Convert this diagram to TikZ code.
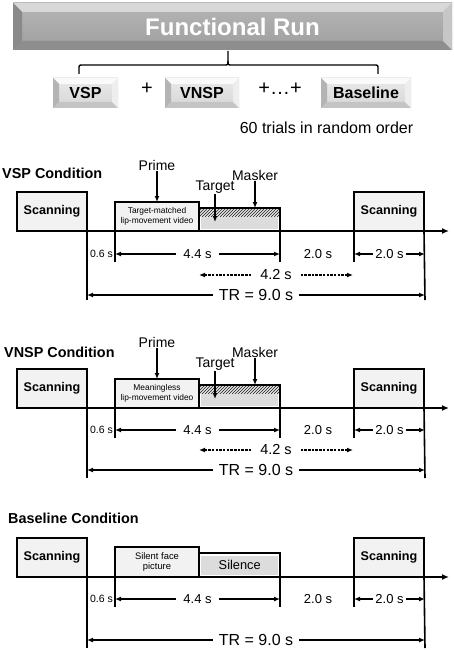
\documentclass[tikz,border=0pt]{standalone}
\usepackage{fontspec}
\setmainfont{Liberation Sans}
\usetikzlibrary{arrows.meta}
\definecolor{boxlight}{HTML}{F2F2F2}
\definecolor{targetgray}{HTML}{DCDCDC}
\definecolor{bantop}{HTML}{B6B6B6}
\definecolor{banbot}{HTML}{9E9E9E}
\definecolor{banbevT}{HTML}{D8D8D8}
\definecolor{banbevL}{HTML}{8A8A8A}
\definecolor{banbevB}{HTML}{8E8E8E}
\definecolor{banbevR}{HTML}{C6C6C6}
\definecolor{smtop}{HTML}{EAEAEA}
\definecolor{smbot}{HTML}{D6D6D6}
\definecolor{smbevT}{HTML}{FAFAFA}
\definecolor{smbevL}{HTML}{B4B4B4}
\definecolor{smbevB}{HTML}{C4C4C4}
\definecolor{smbevR}{HTML}{EEEEEE}
\definecolor{hatchcol}{HTML}{404040}
\newcommand\myfs[1]{\fontsize{#1}{#1}\selectfont}
\newcommand\mybevel[6]{%
 \fill[#3] (#1.north west) -- (#1.north east) -- ([xshift=-#2,yshift=-#2]#1.north east) -- ([xshift=#2,yshift=-#2]#1.north west) -- cycle;
 \fill[#4] (#1.north west) -- ([xshift=#2,yshift=-#2]#1.north west) -- ([xshift=#2,yshift=#2]#1.south west) -- (#1.south west) -- cycle;
 \fill[#5] (#1.south west) -- ([xshift=#2,yshift=#2]#1.south west) -- ([xshift=-#2,yshift=#2]#1.south east) -- (#1.south east) -- cycle;
 \fill[#6] (#1.south east) -- ([xshift=-#2,yshift=#2]#1.south east) -- ([xshift=-#2,yshift=-#2]#1.north east) -- (#1.north east) -- cycle;
}
\newcommand\trialframe[6]{%
 \node[scanbox] (#1sL) at (17,#2) {Scanning};
 \node[scanbox] (#1sR) at (354,#2) {Scanning};
 \coordinate (#1end) at (449,#2);
 \draw[timeline] (#1sL.south west) -- (#1end);
 \coordinate (#1k0) at (87,#6);
 \coordinate (#1k1t) at (115,#2); \coordinate (#1k1) at (115,#5);
 \coordinate (#1k3t) at (280,#2); \coordinate (#1k3) at (280,#5);
 \coordinate (#1k4) at (354,#5);
 \coordinate (#1k5) at (425,#6);
 \draw[tick] (#1sL.south east) -- (#1k0);
 \draw[tick] (#1k1t) -- (#1k1);
 \draw[tick] (#1k3t) -- (#1k3);
 \draw[tick] (#1sR.south west) -- (#1k4);
 \draw[tick] (#1sR.south east) -- (#1k5);
 \coordinate (#1d1) at (115,#3); \coordinate (#1d2) at (280,#3);
 \draw[dim] (#1d1) -- (#1d2) node[dimlbl,font=\myfs{13}] {4.4 s};
 \node[font=\myfs{10.5},inner sep=0pt] (#1z06) at (101.5,#3) {0.6 s};
 \node[font=\myfs{13},inner sep=0pt] (#1z20) at (318,#3) {2.0 s};
 \coordinate (#1d3) at (354,#3); \coordinate (#1d4) at (425,#3);
 \draw[dim] (#1d3) -- (#1d4) node[dimlbl,inner xsep=2pt,font=\myfs{13}] {2.0 s};
 \coordinate (#1r1) at (87,#4); \coordinate (#1r2) at (425,#4);
 \draw[dim] (#1r1) -- (#1r2) node[dimlbl,inner xsep=6pt,font=\myfs{16}] {TR = 9.0 s};
}
\newcommand\maskblock[4]{%
 \node[primebox] (#1prime) at (115,#2) {#4};
 \node[maskbox] (#1mask) at (199,#2) {};
 \begin{scope}
  \clip (200,#2-22) rectangle (279,#2-15);
  \foreach \i in {0,3,...,90} \draw[hatch] (193+\i,#2-14) -- ++(9,-9);
 \end{scope}
 \fill[targetgray] (201,#2-14) rectangle (278,#2-2);
 \node[lbl] (#1pl) at (157,#2-66) {Prime};
 \draw[ptr] (#1pl) -- (#1prime.north);
 \node[lbl] (#1tl) at (215,#2-44) {Target};
 \coordinate (#1tt) at (215,#2-9);
 \draw[ptr] (#1tl) -- (#1tt);
 \node[lbl] (#1ml) at (255,#2-56) {Masker};
 \draw[ptr] (#1ml) -- (#1ml |- #1mask.north);
 \coordinate (#1e1) at (199,#3); \coordinate (#1e2) at (353,#3);
 \draw[dim,dash pattern=on 2.5pt off 1.2pt] (#1e1) -- (#1e2) node[dimlbl,inner xsep=7pt,font=\myfs{14.5}] {4.2 s};
}
\begin{document}
\begin{tikzpicture}[x=1pt,y=-1pt,
  scanbox/.style={draw,line width=1.6pt,fill=boxlight,minimum width=70pt,minimum height=39pt,
    inner sep=0pt,outer sep=0pt,anchor=south west,font=\bfseries\myfs{12.6}},
  primebox/.style={draw,line width=1.6pt,fill=boxlight,minimum width=84pt,minimum height=29pt,
    inner sep=0pt,outer sep=0pt,anchor=south west,align=center,font=\myfs{8.4}},
  maskbox/.style={draw,line width=1.6pt,fill=white,minimum width=81pt,minimum height=23pt,
    inner sep=0pt,outer sep=0pt,anchor=south west},
  timeline/.style={line width=1.6pt,-{Latex[length=7pt,width=6pt]}},
  tick/.style={line width=1.6pt},
  dim/.style={line width=1.4pt,{Latex[length=6pt,width=5pt]}-{Latex[length=6pt,width=5pt]}},
  dimlbl/.style={midway,fill=white,inner xsep=7pt,inner ysep=1pt},
  lbl/.style={font=\myfs{14},inner sep=1pt},
  ptr/.style={line width=1.4pt,-{Latex[length=6pt,width=5pt]}},
  hatch/.style={line width=0.9pt,hatchcol},
  ctitle/.style={anchor=west,font=\bfseries\myfs{14.4},inner sep=0pt},
  banner/.style={top color=bantop,bottom color=banbot,minimum width=439pt,minimum height=47pt,
    inner sep=0pt,outer sep=0pt,text=white,font=\bfseries\myfs{24}},
  smallbox/.style={top color=smtop,bottom color=smbot,minimum height=30pt,
    inner sep=0pt,outer sep=0pt,font=\bfseries\myfs{16}},
  brace/.style={line width=1.4pt},
  plus/.style={font=\myfs{20},inner sep=0pt}
]
\fill[white] (0,0) rectangle (454,650);
\useasboundingbox (0,0) rectangle (454,650);

% ---------- top panel ----------
\node[banner] (fr) at (232.5,26.5) {Functional Run};
\mybevel{fr}{9pt}{banbevT}{banbevL}{banbevB}{banbevR}
\node[smallbox,minimum width=65pt] (bvsp) at (85.5,93) {VSP};
\mybevel{bvsp}{6pt}{smbevT}{smbevL}{smbevB}{smbevR}
\node[smallbox,minimum width=74pt] (bvnsp) at (202,93) {VNSP};
\mybevel{bvnsp}{6pt}{smbevT}{smbevL}{smbevB}{smbevR}
\node[smallbox,minimum width=90pt] (bbase) at (366,93) {Baseline};
\mybevel{bbase}{6pt}{smbevT}{smbevL}{smbevB}{smbevR}
\node[plus] (p1) at (147,89) {+};
\node[plus] (p2) at (280,89) {+…+};
\node[font=\myfs{16},inner sep=0pt] (trials) at (326.5,128) {60 trials in random order};
\coordinate (brtip) at (228,51);
\draw[brace] (79,74) -- (79,69) .. controls (79,65) .. (83,65) -- (224,65) .. controls (228,65) .. (228,61) -- (brtip);
\draw[brace] (378,74) -- (378,69) .. controls (378,65) .. (374,65) -- (232,65) .. controls (228,65) .. (228,61);

% ---------- VSP ----------
\node[ctitle] (t1) at (2,173) {VSP Condition};
\trialframe{a}{231}{254}{295}{262}{300}
\maskblock{a}{231}{275}{Target-matched\\[1pt]lip-movement video}

% ---------- VNSP ----------
\node[ctitle] (t2) at (4,352) {VNSP Condition};
\trialframe{b}{408}{430}{470}{438}{478}
\maskblock{b}{408}{450}{Meaningless\\[1pt]lip-movement video}

% ---------- Baseline ----------
\node[ctitle] (t3) at (8,518) {Baseline Condition};
\trialframe{c}{577}{599}{640}{607}{648}
\node[primebox,minimum height=30pt,font=\myfs{9.4}] (cprime) at (115,577) {Silent face\\[1pt]picture};
\node[maskbox,minimum height=24pt] (cmask) at (199,577) {};
\node[fill=targetgray,minimum width=77pt,minimum height=19pt,anchor=south west,inner sep=0pt,
  font=\myfs{12.8}] (csil) at (201,575) {Silence};
\end{tikzpicture}
\end{document}
